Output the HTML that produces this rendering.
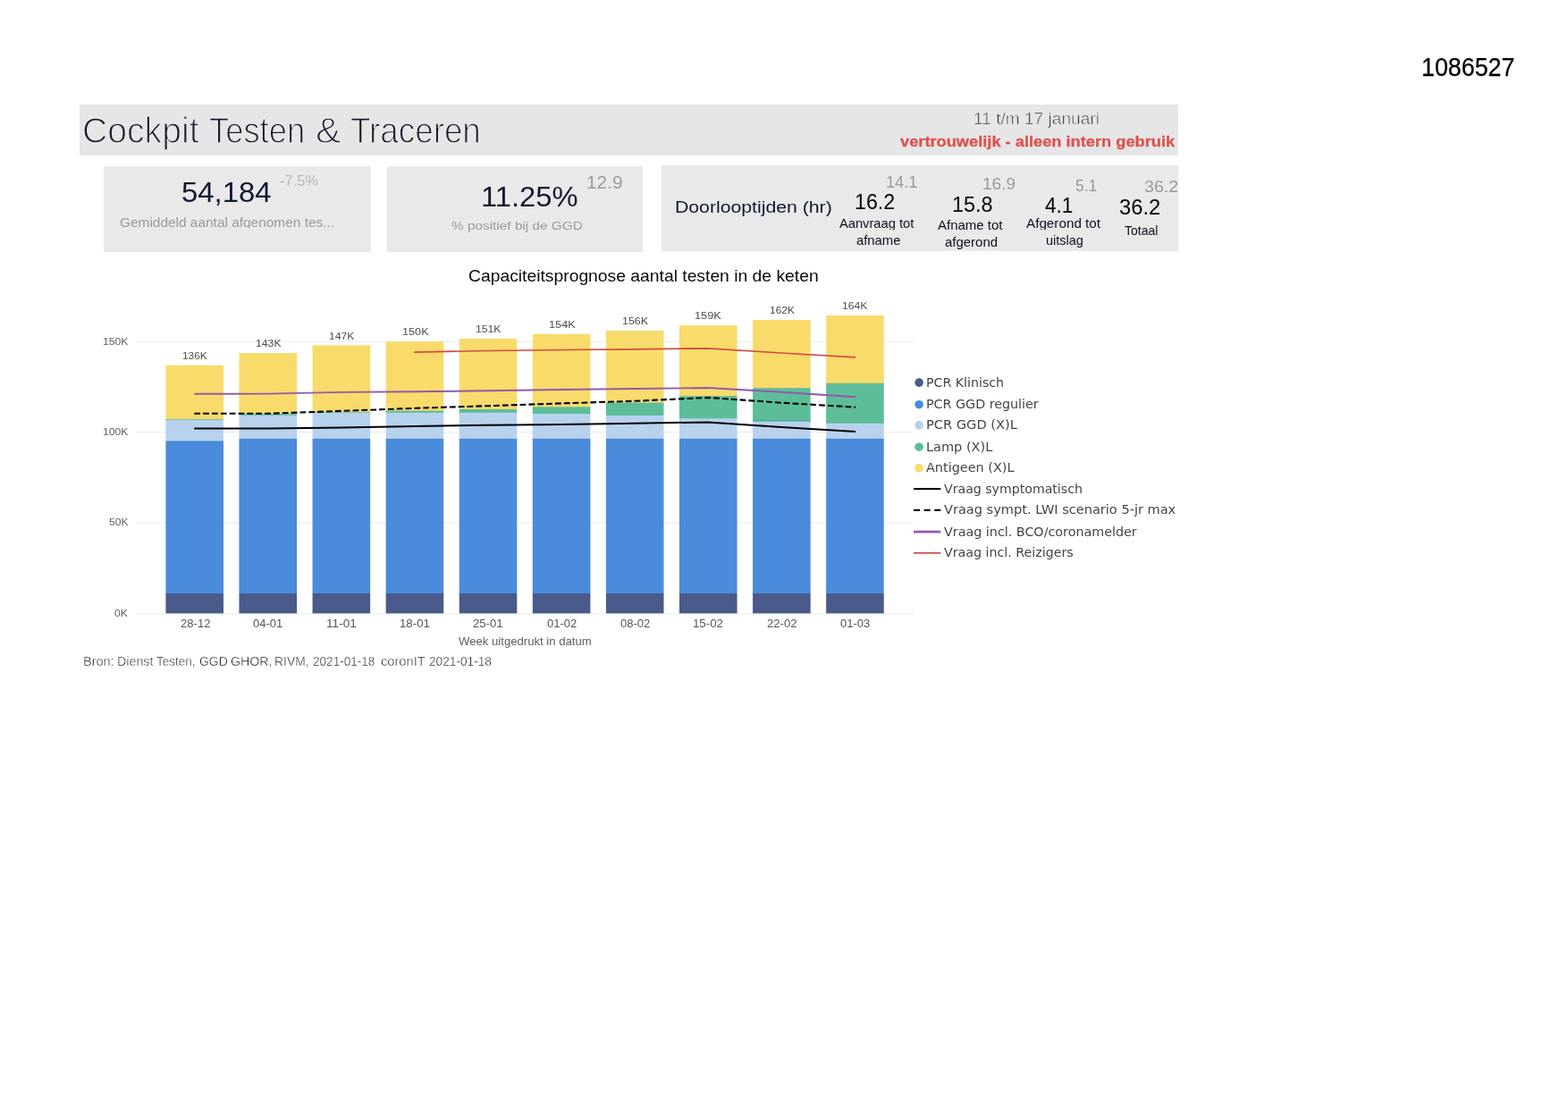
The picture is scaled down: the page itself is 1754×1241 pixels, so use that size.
<!DOCTYPE html>
<html lang="nl">
<head>
<meta charset="utf-8">
<title>Cockpit Testen &amp; Traceren</title>
<style>
html,body{margin:0;padding:0;background:#fff;}
body{width:1754px;height:1241px;position:relative;overflow:hidden;font-family:"Liberation Sans",sans-serif;}
.t{position:absolute;transform-origin:0 0;white-space:nowrap;line-height:1;margin:0;padding:0;font-weight:400;font-family:"Liberation Sans",sans-serif;}
.sp{word-spacing:-0.25em;}
.sp span{position:absolute;top:0;transform-origin:0 0;}
.dv{font-family:"DejaVu Sans","Liberation Sans",sans-serif;}
.box{position:absolute;background:#e9e9e9;}
#chart{position:absolute;left:0;top:0;}
.grp{position:absolute;left:0;top:0;margin:0;font-size:0;font-weight:400;}
#header{left:89px;top:117.3px;width:1229.2px;height:56.5px;background:#e6e6e6;}
#card1{left:116.1px;top:186.2px;width:298.9px;height:95.7px;}
#card2{left:433.4px;top:186.2px;width:285.6px;height:95.7px;}
#card3{left:740.1px;top:185.1px;width:578.1px;height:96.1px;}

#docnum{color:#000;-webkit-text-stroke:0.25px #000;}
#title0{color:#14182c;-webkit-text-stroke:1.3px #e6e6e6;}
#title1{color:#14182c;-webkit-text-stroke:1.3px #e6e6e6;}
#title2{color:#14182c;-webkit-text-stroke:1.3px #e6e6e6;}
#title3{color:#14182c;-webkit-text-stroke:1.3px #e6e6e6;}
#date{color:#2e2e2e;-webkit-text-stroke:0.6px #e6e6e6;}
#conf{color:#d9534f;font-weight:700;-webkit-text-stroke:0.3px #d9534f;}
#c1val{color:#10182e;}
#c1pct{color:#a0a0a0;-webkit-text-stroke:0.3px #e9e9e9;}
#c1lab{color:#9a9a9a;}
#c2val{color:#10182e;}
#c2sub{color:#9c9c9c;}
#c2lab{color:#9a9a9a;}
#c3title{color:#10182e;}
#c3a_prev{color:#9a9a9a;}
#c3a_val{color:#000;}
#c3a_l1{color:#0c1020;}
#c3a_l2{color:#0c1020;}
#c3b_prev{color:#9a9a9a;}
#c3b_val{color:#000;}
#c3b_l1{color:#0c1020;}
#c3b_l2{color:#0c1020;}
#c3c_prev{color:#9a9a9a;}
#c3c_val{color:#000;}
#c3c_l1{color:#0c1020;}
#c3c_l2{color:#0c1020;}
#c3d_prev{color:#9a9a9a;}
#c3d_val{color:#000;}
#c3d_l1{color:#0c1020;}
#ctitle{color:#0a0a0a;}
#xtitle{color:#606060;}
#source0{color:#1c1c1c;-webkit-text-stroke:0.35px #fff;}
#source1{color:#1c1c1c;-webkit-text-stroke:0.35px #fff;}
#source2{color:#1c1c1c;-webkit-text-stroke:0.35px #fff;}
#source3{color:#1c1c1c;-webkit-text-stroke:0.35px #fff;}
#source4{color:#1c1c1c;-webkit-text-stroke:0.35px #fff;}
#source5{color:#1c1c1c;-webkit-text-stroke:0.35px #fff;}
#source6{color:#1c1c1c;-webkit-text-stroke:0.35px #fff;}
#source7{color:#1c1c1c;-webkit-text-stroke:0.35px #fff;}
#source8{color:#1c1c1c;-webkit-text-stroke:0.35px #fff;}
#y150{color:#5e5e5e;}
#y100{color:#5e5e5e;}
#y50{color:#5e5e5e;}
#y0{color:#5e5e5e;}
#dl0{color:#4c4c4c;}
#xl0{color:#555;}
#dl1{color:#4c4c4c;}
#xl1{color:#555;}
#dl2{color:#4c4c4c;}
#xl2{color:#555;}
#dl3{color:#4c4c4c;}
#xl3{color:#555;}
#dl4{color:#4c4c4c;}
#xl4{color:#555;}
#dl5{color:#4c4c4c;}
#xl5{color:#555;}
#dl6{color:#4c4c4c;}
#xl6{color:#555;}
#dl7{color:#4c4c4c;}
#xl7{color:#555;}
#dl8{color:#4c4c4c;}
#xl8{color:#555;}
#dl9{color:#4c4c4c;}
#xl9{color:#555;}
#lg0{color:#444;}
#lg1{color:#444;}
#lg2{color:#444;}
#lg3{color:#444;}
#lg4{color:#444;}
#lg5{color:#444;}
#lg6{color:#444;}
#lg7{color:#444;}
#lg8{color:#444;}
</style>
</head>
<body>

<div class="t" id="docnum" style="left:1590.19px;top:61.00px;font-size:28.77px;transform:scaleX(0.9326);">1086527</div>
<header class="box" id="header"></header>
<h1 class="grp" id="title"><span class="t tw" id="title0" style="left:92.29px;top:126.00px;font-size:40.10px;transform:scaleX(0.9765);">Cockpit</span> <span class="t tw" id="title1" style="left:233.62px;top:126.00px;font-size:40.10px;transform:scaleX(0.9078);">Testen</span> <span class="t tw" id="title2" style="left:352.65px;top:126.00px;font-size:40.10px;transform:scaleX(1.0659);">&amp;</span> <span class="t tw" id="title3" style="left:392.01px;top:126.00px;font-size:40.10px;transform:scaleX(0.9177);">Traceren</span></h1>
<div class="t" id="date" style="left:1088.67px;top:125.00px;font-size:17.77px;transform:scaleX(1.0756);">11 t/m 17 januari</div>
<div class="t" id="conf" style="left:1007.40px;top:151.00px;font-size:15.72px;transform:scaleX(1.1604);">vertrouwelijk - alleen intern gebruik</div>
<section class="box" id="card1"></section>
<div class="t" id="c1val" style="left:203.08px;top:201.00px;font-size:30.79px;transform:scaleX(1.0680);">54,184</div>
<div class="t" id="c1pct" style="left:312.69px;top:195.00px;font-size:16.91px;transform:scaleX(0.9737);">-7.5%</div>
<div class="t" id="c1lab" style="left:133.63px;top:242.00px;font-size:13.98px;transform:scaleX(1.1041);clip-path:inset(-5px -5px 0.98px -5px);">Gemiddeld aantal afgenomen tes...</div>
<section class="box" id="card2"></section>
<div class="t" id="c2val" style="left:538.35px;top:205.00px;font-size:31.13px;transform:scaleX(1.0512);">11.25%</div>
<div class="t" id="c2sub" style="left:656.03px;top:194.00px;font-size:20.89px;transform:scaleX(0.9991);">12.9</div>
<div class="t" id="c2lab" style="left:504.76px;top:246.00px;font-size:13.57px;transform:scaleX(1.1328);">% positief bij de GGD</div>
<section class="box" id="card3"></section>
<div class="t" id="c3title" style="left:754.50px;top:223.00px;font-size:18.86px;transform:scaleX(1.1249);">Doorlooptijden (hr)</div>
<div class="t" id="c3a_prev" style="left:990.74px;top:195.00px;font-size:18.17px;transform:scaleX(1.0009);">14.1</div>
<div class="t" id="c3a_val" style="left:955.96px;top:215.00px;font-size:23.21px;transform:scaleX(0.9987);">16.2</div>
<div class="t" id="c3a_l1" style="left:939.00px;top:243.00px;font-size:14.33px;transform:scaleX(1.0244);clip-path:inset(-5px -5px 0.33px -5px);">Aanvraag tot</div>
<div class="t" id="c3a_l2" style="left:957.51px;top:263.00px;font-size:13.79px;transform:scaleX(1.0760);">afname</div>
<div class="t" id="c3b_prev" style="left:1099.07px;top:198.00px;font-size:17.91px;transform:scaleX(1.0613);">16.9</div>
<div class="t" id="c3b_val" style="left:1064.75px;top:218.00px;font-size:23.54px;transform:scaleX(0.9933);">15.8</div>
<div class="t" id="c3b_l1" style="left:1049.10px;top:245.00px;font-size:14.33px;transform:scaleX(1.0453);">Afname tot</div>
<div class="t" id="c3b_l2" style="left:1057.40px;top:265.00px;font-size:13.79px;transform:scaleX(1.0856);">afgerond</div>
<div class="t" id="c3c_prev" style="left:1203.20px;top:199.00px;font-size:18.17px;transform:scaleX(0.9621);">5.1</div>
<div class="t" id="c3c_val" style="left:1168.65px;top:219.00px;font-size:23.54px;transform:scaleX(0.9528);">4.1</div>
<div class="t" id="c3c_l1" style="left:1148.40px;top:243.00px;font-size:14.33px;transform:scaleX(1.0636);clip-path:inset(-5px -5px 0.33px -5px);">Afgerond tot</div>
<div class="t" id="c3c_l2" style="left:1170.03px;top:263.00px;font-size:13.79px;transform:scaleX(1.0497);">uitslag</div>
<div class="t" id="c3d_prev" style="left:1280.42px;top:201.00px;font-size:17.91px;transform:scaleX(1.0924);">36.2</div>
<div class="t" id="c3d_val" style="left:1252.27px;top:221.00px;font-size:23.21px;transform:scaleX(1.0235);">36.2</div>
<div class="t" id="c3d_l1" style="left:1257.52px;top:251.00px;font-size:14.10px;transform:scaleX(0.9926);">Totaal</div>
<h2 class="t" id="ctitle" style="left:523.63px;top:300.00px;font-size:18.14px;transform:scaleX(1.0649);">Capaciteitsprognose aantal testen in de keten</h2>
<svg id="chart" width="1754" height="1241" viewBox="0 0 1754 1241" shape-rendering="crispEdges">
<g fill="#ededed" shape-rendering="geometricPrecision">
<rect x="152.5" y="381.6" width="869.5" height="1.2"/>
<rect x="152.5" y="482.9" width="869.5" height="1.2"/>
<rect x="152.5" y="584.4" width="869.5" height="1.2"/>
<rect x="152.5" y="686.3" width="869.5" height="1.2"/>
</g>
<g shape-rendering="geometricPrecision">
<g transform="translate(185.40,0)">
<rect x="0" y="408.7" width="64.6" height="60.6" fill="#f8db6a"/>
<rect x="0" y="469.0" width="64.6" height="1.1" fill="#5dbd99"/>
<rect x="0" y="469.8" width="64.6" height="23.9" fill="#b8d2ee"/>
<rect x="0" y="493.4" width="64.6" height="170.9" fill="#4a8bdb"/>
<rect x="0" y="664.0" width="64.6" height="22.4" fill="#4a5a8a"/>
</g>
<g transform="translate(267.48,0)">
<rect x="0" y="395.1" width="64.6" height="68.3" fill="#f8db6a"/>
<rect x="0" y="463.1" width="64.6" height="1.9" fill="#5dbd99"/>
<rect x="0" y="464.7" width="64.6" height="26.5" fill="#b8d2ee"/>
<rect x="0" y="490.9" width="64.6" height="173.4" fill="#4a8bdb"/>
<rect x="0" y="664.0" width="64.6" height="22.4" fill="#4a5a8a"/>
</g>
<g transform="translate(349.56,0)">
<rect x="0" y="386.4" width="64.6" height="75.1" fill="#f8db6a"/>
<rect x="0" y="461.2" width="64.6" height="1.4" fill="#5dbd99"/>
<rect x="0" y="462.3" width="64.6" height="28.9" fill="#b8d2ee"/>
<rect x="0" y="490.9" width="64.6" height="173.4" fill="#4a8bdb"/>
<rect x="0" y="664.0" width="64.6" height="22.4" fill="#4a5a8a"/>
</g>
<g transform="translate(431.64,0)">
<rect x="0" y="382.2" width="64.6" height="77.7" fill="#f8db6a"/>
<rect x="0" y="459.6" width="64.6" height="2.5" fill="#5dbd99"/>
<rect x="0" y="461.8" width="64.6" height="29.4" fill="#b8d2ee"/>
<rect x="0" y="490.9" width="64.6" height="173.4" fill="#4a8bdb"/>
<rect x="0" y="664.0" width="64.6" height="22.4" fill="#4a5a8a"/>
</g>
<g transform="translate(513.72,0)">
<rect x="0" y="379.0" width="64.6" height="79.3" fill="#f8db6a"/>
<rect x="0" y="458.0" width="64.6" height="4.1" fill="#5dbd99"/>
<rect x="0" y="461.8" width="64.6" height="29.4" fill="#b8d2ee"/>
<rect x="0" y="490.9" width="64.6" height="173.4" fill="#4a8bdb"/>
<rect x="0" y="664.0" width="64.6" height="22.4" fill="#4a5a8a"/>
</g>
<g transform="translate(595.80,0)">
<rect x="0" y="373.8" width="64.6" height="81.8" fill="#f8db6a"/>
<rect x="0" y="455.3" width="64.6" height="8.3" fill="#5dbd99"/>
<rect x="0" y="463.3" width="64.6" height="27.9" fill="#b8d2ee"/>
<rect x="0" y="490.9" width="64.6" height="173.4" fill="#4a8bdb"/>
<rect x="0" y="664.0" width="64.6" height="22.4" fill="#4a5a8a"/>
</g>
<g transform="translate(677.88,0)">
<rect x="0" y="370.0" width="64.6" height="80.8" fill="#f8db6a"/>
<rect x="0" y="450.5" width="64.6" height="14.8" fill="#5dbd99"/>
<rect x="0" y="465.0" width="64.6" height="26.2" fill="#b8d2ee"/>
<rect x="0" y="490.9" width="64.6" height="173.4" fill="#4a8bdb"/>
<rect x="0" y="664.0" width="64.6" height="22.4" fill="#4a5a8a"/>
</g>
<g transform="translate(759.96,0)">
<rect x="0" y="364.1" width="64.6" height="79.3" fill="#f8db6a"/>
<rect x="0" y="443.1" width="64.6" height="25.7" fill="#5dbd99"/>
<rect x="0" y="468.5" width="64.6" height="22.7" fill="#b8d2ee"/>
<rect x="0" y="490.9" width="64.6" height="173.4" fill="#4a8bdb"/>
<rect x="0" y="664.0" width="64.6" height="22.4" fill="#4a5a8a"/>
</g>
<g transform="translate(842.04,0)">
<rect x="0" y="358.0" width="64.6" height="76.4" fill="#f8db6a"/>
<rect x="0" y="434.1" width="64.6" height="37.6" fill="#5dbd99"/>
<rect x="0" y="471.4" width="64.6" height="19.8" fill="#b8d2ee"/>
<rect x="0" y="490.9" width="64.6" height="173.4" fill="#4a8bdb"/>
<rect x="0" y="664.0" width="64.6" height="22.4" fill="#4a5a8a"/>
<rect x="0" y="470.2" width="64.6" height="1.3" fill="#46a3a0"/>
</g>
<g transform="translate(924.12,0)">
<rect x="0" y="353.1" width="64.6" height="76.0" fill="#f8db6a"/>
<rect x="0" y="428.8" width="64.6" height="45.3" fill="#5dbd99"/>
<rect x="0" y="473.8" width="64.6" height="17.4" fill="#b8d2ee"/>
<rect x="0" y="490.9" width="64.6" height="173.4" fill="#4a8bdb"/>
<rect x="0" y="664.0" width="64.6" height="22.4" fill="#4a5a8a"/>
</g>
</g>
<g fill="none" stroke-linejoin="round" shape-rendering="geometricPrecision">
<polyline points="463.2,394.1 546.0,392.5 628.0,391.5 710.0,390.8 792.0,389.8 874.0,395.0 957.0,399.8" stroke="#d24b44" stroke-width="1.7"/>
<polyline points="217.3,440.8 300.0,440.6 382.0,438.9 464.0,438.3 546.0,437.3 628.0,436.0 710.0,435.0 792.0,434.0 874.0,438.8 957.0,444.3" stroke="#9358a8" stroke-width="1.9"/>
<polyline points="217.3,462.8 300.0,462.8 382.0,459.9 464.0,456.8 546.0,454.2 628.0,451.4 710.0,448.8 792.0,444.9 874.0,450.7 957.0,455.7" stroke="#000" stroke-width="2.1" stroke-dasharray="6.8 3.05"/>
<polyline points="217.3,479.6 300.0,479.6 382.0,478.4 464.0,477.0 546.0,475.7 628.0,474.9 710.0,473.7 792.0,472.4 874.0,478.0 957.0,483.0" stroke="#000" stroke-width="2"/>
</g>
<g shape-rendering="geometricPrecision">
<circle cx="1028.1" cy="428.1" r="4.8" fill="#4a5a8a"/>
<circle cx="1028.1" cy="452.7" r="4.8" fill="#4a8bdb"/>
<circle cx="1028.1" cy="475.9" r="4.8" fill="#b8d2ee"/>
<circle cx="1028.1" cy="500.2" r="4.8" fill="#5dbd99"/>
<circle cx="1028.1" cy="523.8" r="4.8" fill="#f8db6a"/>
<line x1="1022" x2="1052.3" y1="547.1" y2="547.1" stroke="#000" stroke-width="2.1"/>
<line x1="1022" x2="1052.3" y1="570.9" y2="570.9" stroke="#000" stroke-width="2.1" stroke-dasharray="7 4.65"/>
<line x1="1022" x2="1052.3" y1="595.1" y2="595.1" stroke="#9358a8" stroke-width="2.8"/>
<line x1="1022" x2="1052.3" y1="618.8" y2="618.8" stroke="#d24b44" stroke-width="1.8"/>
</g>
</svg>
<div class="t ax" id="y150" style="left:114.88px;top:377.00px;font-size:11.13px;transform:scaleX(1.0966);">150K</div>
<div class="t ax" id="y100" style="left:114.88px;top:478.00px;font-size:11.13px;transform:scaleX(1.0966);">100K</div>
<div class="t ax" id="y50" style="left:121.82px;top:579.00px;font-size:11.13px;transform:scaleX(1.0893);">50K</div>
<div class="t ax" id="y0" style="left:128.47px;top:681.00px;font-size:11.13px;transform:scaleX(1.0955);">0K</div>
<div class="t ax" id="dl0" style="left:204.31px;top:393.00px;font-size:11.19px;transform:scaleX(1.0631);">136K</div>
<div class="t ax" id="dl1" style="left:285.88px;top:379.00px;font-size:11.19px;transform:scaleX(1.0948);">143K</div>
<div class="t ax" id="dl2" style="left:368.49px;top:371.00px;font-size:11.19px;transform:scaleX(1.0790);">147K</div>
<div class="t ax" id="dl3" style="left:449.75px;top:366.00px;font-size:11.19px;transform:scaleX(1.1345);">150K</div>
<div class="t ax" id="dl4" style="left:532.28px;top:363.00px;font-size:11.19px;transform:scaleX(1.0909);">151K</div>
<div class="t ax" id="dl5" style="left:613.54px;top:358.00px;font-size:11.19px;transform:scaleX(1.1424);">154K</div>
<div class="t ax" id="dl6" style="left:695.96px;top:354.00px;font-size:11.19px;transform:scaleX(1.1147);">156K</div>
<div class="t ax" id="dl7" style="left:777.44px;top:348.00px;font-size:11.19px;transform:scaleX(1.1424);">159K</div>
<div class="t ax" id="dl8" style="left:860.60px;top:342.00px;font-size:11.19px;transform:scaleX(1.0671);">162K</div>
<div class="t ax" id="dl9" style="left:942.19px;top:337.00px;font-size:11.19px;transform:scaleX(1.0829);">164K</div>
<div class="t ax" id="xl0" style="left:201.64px;top:692.00px;font-size:12.32px;transform:scaleX(1.0652);">28-12</div>
<div class="t ax" id="xl1" style="left:283.32px;top:692.00px;font-size:12.32px;transform:scaleX(1.0588);">04-01</div>
<div class="t ax" id="xl2" style="left:364.83px;top:692.00px;font-size:12.32px;transform:scaleX(1.1100);">11-01</div>
<div class="t ax" id="xl3" style="left:446.95px;top:692.00px;font-size:12.32px;transform:scaleX(1.0761);">18-01</div>
<div class="t ax" id="xl4" style="left:529.36px;top:692.00px;font-size:12.32px;transform:scaleX(1.0652);">25-01</div>
<div class="t ax" id="xl5" style="left:611.64px;top:692.00px;font-size:12.32px;transform:scaleX(1.0588);">01-02</div>
<div class="t ax" id="xl6" style="left:693.72px;top:692.00px;font-size:12.32px;transform:scaleX(1.0588);">08-02</div>
<div class="t ax" id="xl7" style="left:775.27px;top:692.00px;font-size:12.32px;transform:scaleX(1.0761);">15-02</div>
<div class="t ax" id="xl8" style="left:857.68px;top:692.00px;font-size:12.32px;transform:scaleX(1.0652);">22-02</div>
<div class="t ax" id="xl9" style="left:939.96px;top:692.00px;font-size:12.32px;transform:scaleX(1.0566);">01-03</div>
<div class="t" id="xtitle" style="left:512.80px;top:712.00px;font-size:12.94px;transform:scaleX(1.0158);">Week uitgedrukt in datum</div>
<div class="t lg dv" id="lg0" style="left:1035.75px;top:422.00px;font-size:13.20px;transform:scaleX(1.0751);">PCR Klinisch</div>
<div class="t lg dv" id="lg1" style="left:1035.74px;top:446.00px;font-size:13.20px;transform:scaleX(1.0824);">PCR GGD regulier</div>
<div class="t lg dv" id="lg2" style="left:1035.71px;top:469.00px;font-size:13.20px;transform:scaleX(1.1073);">PCR GGD (X)L</div>
<div class="t lg dv" id="lg3" style="left:1035.62px;top:494.00px;font-size:13.29px;transform:scaleX(1.0924);">Lamp (X)L</div>
<div class="t lg dv" id="lg4" style="left:1035.83px;top:517.00px;font-size:13.29px;transform:scaleX(1.0858);">Antigeen (X)L</div>
<div class="t lg dv" id="lg5" style="left:1056.13px;top:541.00px;font-size:13.29px;transform:scaleX(1.0640);">Vraag symptomatisch</div>
<div class="t lg dv" id="lg6" style="left:1056.13px;top:564.00px;font-size:13.29px;transform:scaleX(1.0950);">Vraag sympt. LWI scenario 5-jr max</div>
<div class="t lg dv" id="lg7" style="left:1056.13px;top:589.00px;font-size:13.29px;transform:scaleX(1.0773);">Vraag incl. BCO/coronamelder</div>
<div class="t lg dv" id="lg8" style="left:1056.13px;top:612.00px;font-size:13.29px;transform:scaleX(1.0703);">Vraag incl. Reizigers</div>
<p class="grp" id="source"><span class="t sw" id="source0" style="left:92.66px;top:733.00px;font-size:14.51px;transform:scaleX(0.9998);">Bron:</span> <span class="t sw" id="source1" style="left:130.58px;top:733.00px;font-size:14.51px;transform:scaleX(0.9828);">Dienst</span> <span class="t sw" id="source2" style="left:175.15px;top:733.00px;font-size:14.51px;transform:scaleX(0.9319);">Testen,</span> <span class="t sw" id="source3" style="left:222.63px;top:733.00px;font-size:14.51px;transform:scaleX(0.9620);">GGD</span> <span class="t sw" id="source4" style="left:257.82px;top:733.00px;font-size:14.51px;transform:scaleX(0.9775);">GHOR,</span> <span class="t sw" id="source5" style="left:307.31px;top:733.00px;font-size:14.51px;transform:scaleX(0.9569);">RIVM,</span> <span class="t sw" id="source6" style="left:349.55px;top:733.00px;font-size:14.51px;transform:scaleX(0.9359);">2021-01-18</span> <span class="t sw" id="source7" style="left:426.44px;top:733.00px;font-size:14.51px;transform:scaleX(1.0109);">coronIT</span> <span class="t sw" id="source8" style="left:479.74px;top:733.00px;font-size:14.51px;transform:scaleX(0.9428);">2021-01-18</span></p>
</body>
</html>
